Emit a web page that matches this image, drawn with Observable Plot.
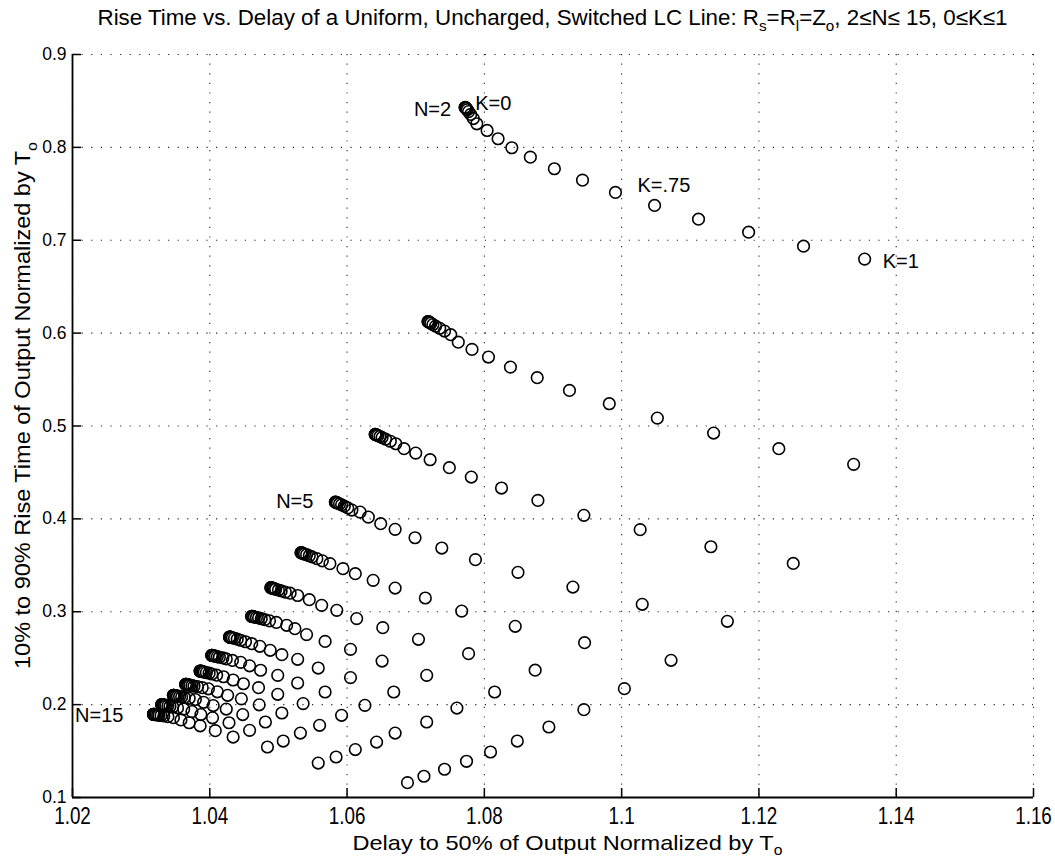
<!DOCTYPE html>
<html>
<head>
<meta charset="utf-8">
<script src="https://cdn.jsdelivr.net/npm/d3@7"></script>
<script src="https://cdn.jsdelivr.net/npm/@observablehq/plot@0.6"></script>
<style>
  body { margin: 0; background: #fff; }
  #chart { width: 1055px; height: 859px; }
</style>
</head>
<body>
<div id="chart"></div>
<script>
// Coupling parameter K, stepped 0 … 1 by 0.05
const kValues = [0, 0.05, 0.1, 0.15, 0.2, 0.25, 0.3, 0.35, 0.4, 0.45, 0.5,
                 0.55, 0.6, 0.65, 0.7, 0.75, 0.8, 0.85, 0.9, 0.95, 1];

// Number of LC sections
const nValues = [2, 3, 4, 5, 6, 7, 8, 9, 10, 11, 12, 13, 14, 15];

// Delay to 50% (normalized by To), one array per N, ordered by K
const delayN2  = [1.0772,1.0772,1.0773,1.0774,1.0775,1.0777,1.0780,1.0784,1.0789,1.0804,1.0820,1.0840,1.0867,1.0902,1.0943,1.0991,1.1048,1.1112,1.1185,1.1265,1.1354];
const delayN3  = [1.0718,1.0718,1.0719,1.0720,1.0722,1.0725,1.0729,1.0735,1.0742,1.0751,1.0762,1.0782,1.0806,1.0838,1.0877,1.0924,1.0982,1.1052,1.1134,1.1229,1.1338];
const delayN4  = [1.0641,1.0641,1.0642,1.0643,1.0645,1.0648,1.0651,1.0656,1.0663,1.0671,1.0683,1.0700,1.0721,1.0749,1.0781,1.0825,1.0878,1.0945,1.1027,1.1130,1.1250];
const delayN5  = [1.0583,1.0583,1.0584,1.0585,1.0586,1.0589,1.0592,1.0596,1.0601,1.0607,1.0619,1.0631,1.0649,1.0670,1.0699,1.0738,1.0787,1.0849,1.0929,1.1030,1.1154];
const delayN6  = [1.0533,1.0533,1.0534,1.0535,1.0536,1.0538,1.0541,1.0545,1.0549,1.0556,1.0564,1.0575,1.0594,1.0612,1.0638,1.0670,1.0714,1.0767,1.0845,1.0946,1.1072];
const delayN7  = [1.0489,1.0489,1.0490,1.0490,1.0492,1.0494,1.0496,1.0500,1.0504,1.0510,1.0517,1.0528,1.0545,1.0563,1.0585,1.0614,1.0652,1.0704,1.0777,1.0874,1.1004];
const delayN8  = [1.0461,1.0461,1.0462,1.0462,1.0464,1.0465,1.0468,1.0471,1.0475,1.0480,1.0487,1.0497,1.0512,1.0524,1.0541,1.0568,1.0605,1.0651,1.0716,1.0815,1.0945];
const delayN9  = [1.0429,1.0429,1.0429,1.0429,1.0430,1.0431,1.0433,1.0436,1.0440,1.0445,1.0452,1.0461,1.0473,1.0488,1.0505,1.0528,1.0558,1.0605,1.0668,1.0760,1.0894];
const delayN10 = [1.0403,1.0403,1.0403,1.0404,1.0405,1.0407,1.0408,1.0411,1.0414,1.0419,1.0424,1.0433,1.0445,1.0458,1.0474,1.0499,1.0528,1.0568,1.0626,1.0716,1.0848];
const delayN11 = [1.0386,1.0386,1.0386,1.0387,1.0388,1.0389,1.0390,1.0392,1.0395,1.0399,1.0403,1.0410,1.0420,1.0434,1.0449,1.0471,1.0499,1.0536,1.0592,1.0670,1.0809];
const delayN12 = [1.0365,1.0365,1.0365,1.0366,1.0367,1.0368,1.0369,1.0371,1.0374,1.0377,1.0382,1.0389,1.0398,1.0411,1.0426,1.0446,1.0472,1.0505,1.0560,1.0643,1.0774];
const delayN13 = [1.0347,1.0347,1.0347,1.0348,1.0349,1.0350,1.0351,1.0353,1.0356,1.0359,1.0363,1.0370,1.0379,1.0391,1.0405,1.0424,1.0448,1.0481,1.0532,1.0612,1.0742];
const delayN14 = [1.0330,1.0330,1.0330,1.0331,1.0332,1.0333,1.0334,1.0336,1.0339,1.0342,1.0346,1.0353,1.0362,1.0374,1.0387,1.0404,1.0428,1.0458,1.0507,1.0584,1.0712];
const delayN15 = [1.0318,1.0318,1.0318,1.0319,1.0319,1.0320,1.0322,1.0324,1.0326,1.0329,1.0333,1.0339,1.0347,1.0358,1.0370,1.0386,1.0408,1.0434,1.0484,1.0558,1.0688];

// 10%–90% rise time (normalized by To), one array per N, ordered by K
const riseN2  = [0.8430,0.8429,0.8425,0.8418,0.8405,0.8385,0.8355,0.8310,0.8254,0.8182,0.8093,0.7996,0.7895,0.7770,0.7647,0.7515,0.7375,0.7227,0.7087,0.6936,0.6797];
const riseN3  = [0.6125,0.6124,0.6121,0.6115,0.6106,0.6092,0.6075,0.6052,0.6022,0.5983,0.5903,0.5825,0.5742,0.5634,0.5520,0.5383,0.5240,0.5085,0.4924,0.4756,0.4587];
const riseN4  = [0.4910,0.4909,0.4907,0.4903,0.4896,0.4887,0.4875,0.4858,0.4836,0.4809,0.4756,0.4708,0.4637,0.4551,0.4450,0.4332,0.4199,0.4038,0.3884,0.3700,0.3520];
const riseN5  = [0.4181,0.4180,0.4179,0.4175,0.4169,0.4161,0.4151,0.4137,0.4118,0.4095,0.4073,0.4019,0.3948,0.3887,0.3797,0.3686,0.3561,0.3424,0.3266,0.3080,0.2897];
const riseN6  = [0.3636,0.3635,0.3634,0.3632,0.3627,0.3621,0.3614,0.3603,0.3590,0.3572,0.3548,0.3518,0.3464,0.3410,0.3338,0.3255,0.3148,0.3007,0.2843,0.2667,0.2477];
const riseN7  = [0.3259,0.3259,0.3258,0.3256,0.3253,0.3248,0.3242,0.3234,0.3224,0.3211,0.3200,0.3175,0.3130,0.3069,0.3015,0.2926,0.2829,0.2703,0.2549,0.2371,0.2172];
const riseN8  = [0.2951,0.2951,0.2950,0.2949,0.2946,0.2943,0.2938,0.2933,0.2925,0.2915,0.2902,0.2885,0.2854,0.2818,0.2754,0.2681,0.2595,0.2469,0.2315,0.2136,0.1946];
const riseN9  = [0.2728,0.2728,0.2728,0.2727,0.2726,0.2724,0.2720,0.2714,0.2705,0.2693,0.2677,0.2656,0.2628,0.2585,0.2538,0.2488,0.2394,0.2291,0.2136,0.1963,0.1759];
const riseN10 = [0.2531,0.2531,0.2530,0.2529,0.2527,0.2525,0.2521,0.2517,0.2510,0.2503,0.2492,0.2476,0.2455,0.2418,0.2370,0.2315,0.2233,0.2136,0.1992,0.1813,0.1608];
const riseN11 = [0.2362,0.2362,0.2361,0.2360,0.2359,0.2357,0.2354,0.2350,0.2345,0.2339,0.2330,0.2317,0.2300,0.2265,0.2225,0.2183,0.2111,0.2011,0.1885,0.1694,0.1490];
const riseN12 = [0.2218,0.2218,0.2218,0.2217,0.2216,0.2214,0.2212,0.2209,0.2205,0.2200,0.2194,0.2183,0.2170,0.2138,0.2100,0.2062,0.1998,0.1910,0.1777,0.1597,0.1390];
const riseN13 = [0.2100,0.2100,0.2100,0.2099,0.2098,0.2096,0.2094,0.2091,0.2088,0.2083,0.2077,0.2068,0.2055,0.2025,0.1990,0.1952,0.1893,0.1813,0.1694,0.1516,0.1304];
const riseN14 = [0.2000,0.2000,0.2000,0.1999,0.1998,0.1996,0.1994,0.1991,0.1987,0.1982,0.1976,0.1965,0.1952,0.1925,0.1893,0.1858,0.1805,0.1723,0.1608,0.1436,0.1229];
const riseN15 = [0.1896,0.1896,0.1896,0.1895,0.1894,0.1893,0.1891,0.1889,0.1886,0.1883,0.1878,0.1870,0.1860,0.1835,0.1805,0.1772,0.1720,0.1651,0.1544,0.1371,0.1160];

// Axis ticks
const xTicks = [1.02, 1.04, 1.06, 1.08, 1.1, 1.12, 1.14, 1.16];
const yTicks = [0.1, 0.2, 0.3, 0.4, 0.5, 0.6, 0.7, 0.8, 0.9];

const delayByN = [delayN2, delayN3, delayN4, delayN5, delayN6, delayN7, delayN8,
                  delayN9, delayN10, delayN11, delayN12, delayN13, delayN14, delayN15];
const riseByN  = [riseN2, riseN3, riseN4, riseN5, riseN6, riseN7, riseN8,
                  riseN9, riseN10, riseN11, riseN12, riseN13, riseN14, riseN15];

// Long table: one row per (N, K)
const rows = nValues.flatMap((n, i) =>
  kValues.map((k, j) => ({n, k, delay: delayByN[i][j], rise: riseByN[i][j]})));

const pointAt = (n, k) => rows.find(r => r.n === n && r.k === k);

const sansFont = '"Liberation Sans", Arial, Helvetica, sans-serif';

// Annotations hang off a particular (N, K) point
const annotations = [
  {text: "N=2",   p: pointAt(2, 0),    dx: -14, dy: 2,  textAnchor: "end"},
  {text: "K=0",   p: pointAt(2, 0),    dx: 10,  dy: -4, textAnchor: "start"},
  {text: "K=.75", p: pointAt(2, 0.75), dx: 22,  dy: -7, textAnchor: "start"},
  {text: "K=1",   p: pointAt(2, 1),    dx: 18,  dy: 2,  textAnchor: "start"},
  {text: "N=5",   p: pointAt(5, 0),    dx: -22, dy: 0,  textAnchor: "end"},
  {text: "N=15",  p: pointAt(15, 0),   dx: -30, dy: 1,  textAnchor: "end"}
];

const gridStyle = {stroke: "#000", strokeOpacity: 0.85, strokeWidth: 1.1, strokeDasharray: "1.2,8.4"};

const plotMargin = {left: 72, right: 22, top: 54, bottom: 62};
const W = 1055, H = 859;
const innerW = W - plotMargin.left - plotMargin.right;
const innerH = H - plotMargin.top - plotMargin.bottom;
const tickLen = 9;

const chart = Plot.plot({
  width: W,
  height: H,
  marginLeft: plotMargin.left,
  marginRight: plotMargin.right,
  marginTop: plotMargin.top,
  marginBottom: plotMargin.bottom,
  style: {background: "#fff", color: "#000"},
  x: {domain: [xTicks[0], xTicks[xTicks.length - 1]]},
  y: {domain: [yTicks[0], yTicks[yTicks.length - 1]]},
  marks: [
    Plot.gridX(xTicks, gridStyle),
    Plot.gridY(yTicks, gridStyle),
    // inward tick marks along the bottom and left edges
    Plot.ruleX(xTicks, {stroke: "#000", strokeWidth: 1.5, insetTop: innerH - tickLen}),
    Plot.ruleY(yTicks, {stroke: "#000", strokeWidth: 1.5, insetRight: innerW - tickLen}),
    Plot.ruleX([xTicks[0]], {stroke: "#000", strokeWidth: 1.8}),
    Plot.ruleY([yTicks[0]], {stroke: "#000", strokeWidth: 1.8}),
    Plot.axisX(xTicks, {
      tickSize: 0, tickPadding: 10, label: null,
      tickFormat: d => String(+d.toFixed(2)),
      fontSize: 23, fontFamily: sansFont
    }),
    Plot.axisY(yTicks, {
      tickSize: 0, tickPadding: 6, label: null,
      tickFormat: d => d.toFixed(1),
      fontSize: 17.5, fontFamily: sansFont
    }),
    Plot.dot(rows, {x: "delay", y: "rise", r: 5.8, stroke: "#000", strokeWidth: 1.6, fill: "none"}),
    ...annotations.map(a => Plot.text([a.p], {
      x: "delay", y: "rise", text: () => a.text, dx: a.dx, dy: a.dy,
      textAnchor: a.textAnchor, fontSize: 20, fontFamily: sansFont, fill: "#000"
    }))
  ]
});

document.getElementById("chart").append(chart);

const svg = d3.select(chart);

// Condensed look for the x tick labels: squeeze each horizontally about its anchor
svg.selectAll('g[aria-label="x-axis tick label"] text').each(function () {
  const t = d3.select(this);
  t.attr("transform", (t.attr("transform") || "") + " scale(0.82,1)");
});

// Titles with subscripts
const plotLeft = plotMargin.left, plotRight = W - plotMargin.right;
const plotTop = plotMargin.top, plotBottom = H - plotMargin.bottom;

function condensed(sel, width) {
  sel.attr("textLength", width).attr("lengthAdjust", "spacingAndGlyphs");
}

const title = svg.append("text")
  .attr("x", (plotLeft + plotRight) / 2).attr("y", 25)
  .attr("text-anchor", "middle").attr("font-size", 22)
  .attr("font-family", sansFont).attr("fill", "#000");
title.append("tspan").text("Rise Time vs. Delay of a Uniform, Uncharged, Switched LC Line: R");
title.append("tspan").attr("dy", 6).attr("font-size", 15).text("s");
title.append("tspan").attr("dy", -6).text("=R");
title.append("tspan").attr("dy", 6).attr("font-size", 15).text("l");
title.append("tspan").attr("dy", -6).text("=Z");
title.append("tspan").attr("dy", 6).attr("font-size", 15).text("o");
title.append("tspan").attr("dy", -6).text(", 2≤N≤ 15, 0≤K≤1");
condensed(title, 910);

const xTitle = svg.append("text")
  .attr("x", (plotLeft + plotRight) / 2 + 15).attr("y", 850)
  .attr("text-anchor", "middle").attr("font-size", 21)
  .attr("font-family", sansFont).attr("fill", "#000");
xTitle.append("tspan").text("Delay to 50% of Output Normalized by T");
xTitle.append("tspan").attr("dy", 5).attr("font-size", 14).text("o");
condensed(xTitle, 430);

const yTitle = svg.append("text")
  .attr("transform", `translate(30,${(plotTop + plotBottom) / 2 - 20}) rotate(-90)`)
  .attr("text-anchor", "middle").attr("font-size", 22)
  .attr("font-family", sansFont).attr("fill", "#000");
yTitle.append("tspan").text("10% to 90% Rise Time of Output Normalized by T");
yTitle.append("tspan").attr("dy", 7).attr("font-size", 15).text("o");
condensed(yTitle, 527);
</script>
</body>
</html>
